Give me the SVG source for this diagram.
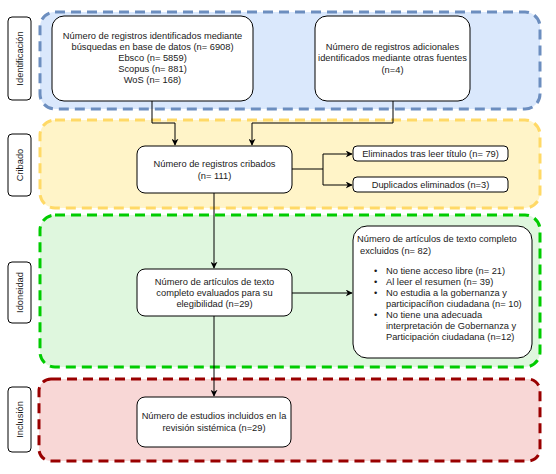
<svg xmlns="http://www.w3.org/2000/svg" width="556" height="474" viewBox="0 0 556 474">
<style>
text{font-family:"Liberation Sans",Arial,sans-serif;font-size:9.3px;fill:#1a1a1a}
.c{text-anchor:middle}
.band{stroke-width:3;stroke-dasharray:10 6}
.box{fill:#fff;stroke:#000;stroke-width:1}
.lbl{fill:#fff;stroke:#000;stroke-width:1}
.ln{fill:none;stroke:#000;stroke-width:1}
</style>
<defs>
<marker id="ar" viewBox="0 0 10 10" refX="9" refY="5" markerWidth="7" markerHeight="7" orient="auto" markerUnits="userSpaceOnUse">
<path d="M0,0 L10,5 L0,10 L3,5 Z" fill="#000"/>
</marker>
</defs>
<g id="band-identificacion">
<rect class="band" x="40" y="12" width="500" height="97" rx="15" fill="#dae8fc" stroke="#6c8ebf"/>
<rect class="lbl" x="8" y="17" width="23" height="83" rx="4"/>
<text class="c" transform="translate(23,58.5) rotate(-90)">Identificación</text>
</g>
<g id="band-cribado">
<rect class="band" x="40" y="120" width="500" height="88" rx="15" fill="#fff4c8" stroke="#ffd966"/>
<rect class="lbl" x="8" y="134" width="23" height="62" rx="4"/>
<text class="c" transform="translate(23,165) rotate(-90)">Cribado</text>
</g>
<g id="band-idoneidad">
<rect class="band" x="40" y="215" width="500" height="152" rx="15" fill="#dff7de" stroke="#00cc00"/>
<rect class="lbl" x="8" y="262" width="23" height="61" rx="4"/>
<text class="c" transform="translate(23,292.5) rotate(-90)">Idoneidad</text>
</g>
<g id="band-inclusion">
<rect class="band" x="39" y="379" width="501" height="82" rx="12" fill="#f8d7d6" stroke="#990000"/>
<rect class="lbl" x="8" y="387" width="23" height="65" rx="4"/>
<text class="c" transform="translate(23,419.5) rotate(-90)">Inclusión</text>
</g>
<g id="connectors">
<path class="ln" d="M152,101 V123 H175 V145" marker-end="url(#ar)"/>
<path class="ln" d="M393,101 V123 H252 V145" marker-end="url(#ar)"/>
<path class="ln" d="M292,169 H323 M323,154 V185"/>
<path class="ln" d="M323,154 H352" marker-end="url(#ar)"/>
<path class="ln" d="M323,185 H352" marker-end="url(#ar)"/>
<path class="ln" d="M214,193 V268" marker-end="url(#ar)"/>
<path class="ln" d="M292,293 H352" marker-end="url(#ar)"/>
<path class="ln" d="M214,316 V396" marker-end="url(#ar)"/>
</g>
<g id="node-db">
<rect class="box" x="52" y="16" width="201" height="85" rx="12"/>
<text class="c" x="152.5" y="39">Número de registros identificados mediante</text>
<text class="c" x="152.5" y="50">búsquedas en base de datos (n= 6908)</text>
<text class="c" x="152.5" y="61">Ebsco (n= 5859)</text>
<text class="c" x="152.5" y="72">Scopus (n= 881)</text>
<text class="c" x="152.5" y="83">WoS (n= 168)</text>
</g>
<g id="node-other">
<rect class="box" x="315" y="16" width="155" height="85" rx="12"/>
<text class="c" x="392.5" y="50">Número de registros adicionales</text>
<text class="c" x="392.5" y="61">identificados mediante otras fuentes</text>
<text class="c" x="392.5" y="73">(n=4)</text>
</g>
<g id="node-cribados">
<rect class="box" x="137" y="146" width="155" height="47" rx="8"/>
<text class="c" x="214.5" y="167">Número de registros cribados</text>
<text class="c" x="214.5" y="179">(n= 111)</text>
</g>
<g id="node-elim">
<rect class="box" x="353" y="146" width="155" height="15" rx="4"/>
<text class="c" x="430.5" y="157">Eliminados tras leer título (n= 79)</text>
</g>
<g id="node-dup">
<rect class="box" x="353" y="177" width="155" height="15" rx="4"/>
<text class="c" x="430.5" y="188">Duplicados eliminados (n=3)</text>
</g>
<g id="node-eval">
<rect class="box" x="137" y="269" width="155" height="47" rx="8"/>
<text class="c" x="214.5" y="285">Número de artículos de texto</text>
<text class="c" x="214.5" y="296">completo evaluados para su</text>
<text class="c" x="214.5" y="307">elegibilidad (n=29)</text>
</g>
<g id="node-excl">
<rect class="box" x="353" y="226" width="179" height="132" rx="14"/>
<text x="357" y="242">Número de artículos de texto completo</text>
<text x="360" y="254">excluidos  (n= 82)</text>
<text x="374" y="274">•</text><text x="386" y="274">No tiene acceso libre (n= 21)</text>
<text x="374" y="285">•</text><text x="386" y="285">Al leer el resumen (n= 39)</text>
<text x="374" y="296">•</text><text x="386" y="296">No estudia a la gobernanza y</text>
<text x="386" y="307">participacíñon ciudadana (n= 10)</text>
<text x="374" y="318">•</text><text x="386" y="318">No tiene una adecuada</text>
<text x="386" y="329">interpretación de Gobernanza y</text>
<text x="386" y="340">Participación ciudadana (n=12)</text>
</g>
<g id="node-incl">
<rect class="box" x="137" y="397" width="154" height="50" rx="8"/>
<text class="c" x="214" y="419">Número de estudios incluidos en la</text>
<text class="c" x="214" y="431">revisión sistémica (n=29)</text>
</g>
</svg>
